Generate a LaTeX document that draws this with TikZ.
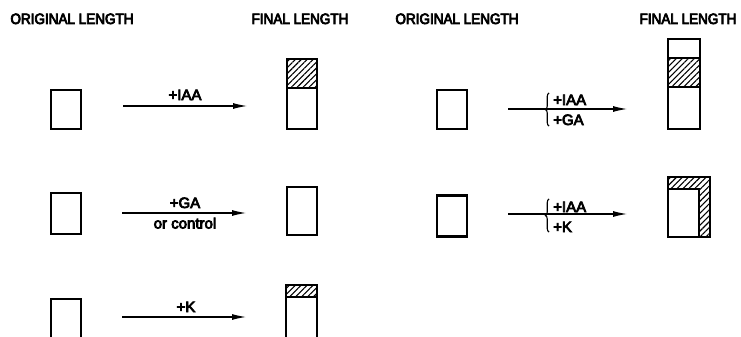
\documentclass[tikz,border=0pt]{standalone}
\usepackage{fontspec}
\setmainfont{Liberation Sans}[FakeBold=5]
\newfontfamily\headfont{Liberation Sans}[FakeBold=5, FakeStretch=0.9]
\usetikzlibrary{arrows.meta,patterns.meta,decorations.pathreplacing}

\tikzset{
  box/.style={draw, line width=2.3pt, rectangle, inner sep=0pt, outer sep=0pt},
  divider/.style={line width=2pt},
  hatch/.style={pattern={Lines[angle=45,distance=4.2pt,line width=1.1pt]}},
  growth/.style={-{Latex[length=14pt,width=6pt]}, line width=1.1pt},
  lab/.style={font=\fontsize{15}{17}\selectfont, inner sep=0pt, anchor=base},
  head/.style={font=\headfont\fontsize{15}{17}\selectfont, inner sep=0pt, anchor=base},
  curly/.style={decorate, decoration={brace, amplitude=3.5pt}, line width=1.1pt}
}

\begin{document}
\begin{tikzpicture}[x=1pt, y=-1pt]
\useasboundingbox (0,0) rectangle (741,337);
\clip (0,0) rectangle (741,337);

% column headings
\node[head] (h1) at (72,24) {ORIGINAL LENGTH};
\node[head] (h2) at (300,24) {FINAL LENGTH};
\node[head] (h3) at (457,24) {ORIGINAL LENGTH};
\node[head] (h4) at (688,24) {FINAL LENGTH};

% ---------- left column ----------
% row 1: +IAA
\node[box, minimum width=30pt, minimum height=39pt] (o1) at (66,109.5) {};
\fill[hatch] (287,59) rectangle (317,88);
\node[box, minimum width=30pt, minimum height=70pt] (f1) at (302,94) {};
\draw[divider] (f1.west |- 0,88) -- (f1.east |- 0,88);
\coordinate (s1) at (123,106);
\coordinate (e1) at (247,106);
\draw[growth] (s1) -- (e1);
\node[lab] (l1) at (185,100) {+IAA};

% row 2: +GA or control
\node[box, minimum width=30pt, minimum height=41pt] (o2) at (66,213.5) {};
\node[box, minimum width=30pt, minimum height=48pt] (f2) at (302,211) {};
\coordinate (s2) at (122,213);
\coordinate (e2) at (246,213);
\draw[growth] (s2) -- (e2);
\node[lab] (l2) at (185,208) {+GA};
\node[lab] (l2b) at (185,228.5) {or control};

% row 3: +K
\node[box, minimum width=30pt, minimum height=40pt] (o3) at (66,319) {};
\fill[hatch] (286,285) rectangle (317,297);
\node[box, minimum width=31pt, minimum height=54pt] (f3) at (301.5,312) {};
\draw[divider] (f3.west |- 0,297) -- (f3.east |- 0,297);
\coordinate (s3) at (122,317);
\coordinate (e3) at (246,317);
\draw[growth] (s3) -- (e3);
\node[lab] (l3) at (186,312) {+K};

% ---------- right column ----------
% row 1: +IAA and +GA
\node[box, minimum width=30pt, minimum height=39pt] (o4) at (452,109.5) {};
\fill[hatch] (668,58) rectangle (700,87);
\node[box, minimum width=32pt, minimum height=90pt] (f4) at (684,84) {};
\draw[divider] (f4.west |- 0,58) -- (f4.east |- 0,58);
\draw[divider] (f4.west |- 0,87) -- (f4.east |- 0,87);
\coordinate (s4) at (508,109);
\coordinate (e4) at (627,109);
\draw[growth] (s4) -- (e4);
\draw[curly] (549,126) -- (549,93);
\node[lab, anchor=base west] (l4) at (553,105) {+IAA};
\node[lab, anchor=base west] (l4b) at (553,125) {+GA};

% row 2: +IAA and +K
\node[box, minimum width=30pt, minimum height=41pt] (o5) at (452,216) {};
\fill[hatch, even odd rule] (668,177) rectangle (710,237) (668,189) rectangle (699,237);
\node[box, minimum width=42pt, minimum height=60pt] (f5) at (689,207) {};
\draw[divider] (f5.west |- 0,189) -- (699,189) -- (f5.south -| 699,0);
\coordinate (s5) at (508,214);
\coordinate (e5) at (627,214);
\draw[growth] (s5) -- (e5);
\draw[curly] (549,232) -- (549,199);
\node[lab, anchor=base west] (l5) at (553,212) {+IAA};
\node[lab, anchor=base west] (l5b) at (553,232) {+K};
\end{tikzpicture}
\end{document}
